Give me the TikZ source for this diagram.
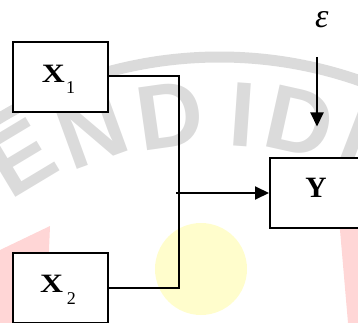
\documentclass[tikz,border=0pt]{standalone}
\usepackage{fontspec}
\usepackage{graphicx}
\setmainfont{Liberation Serif}
\newfontfamily\wmfont{Liberation Sans}
\usetikzlibrary{arrows.meta}
\definecolor{wmgray}{RGB}{219,219,219}
\definecolor{wmpink}{RGB}{255,214,214}
\definecolor{wmyellow}{RGB}{255,253,204}
\begin{document}
\begin{tikzpicture}[x=1pt,y=-1pt,
  box/.style={draw=black, line width=2pt, fill=white, inner sep=0pt},
  conn/.style={line width=2pt},
  arr/.style={conn, -{Triangle[length=14pt,width=13pt]}},
  wm/.style={text=wmgray, font=\wmfont\bfseries\fontsize{92}{92}\selectfont, inner sep=0pt},
  lab/.style={inner sep=0pt, anchor=base}
]
\useasboundingbox (0,0) rectangle (358,323);
% faint watermark
\draw[wmgray, line width=11pt] (219.5,483) ++(-125:426) arc[start angle=-125, end angle=-65, radius=426];
\node[wm, rotate=31]   (wE)  at (20,158)  {E};
\node[wm, rotate=20]   (wN)  at (92,130)  {N};
\node[wm, rotate=8]    (wD1) at (170,116) {D};
\node[wm, rotate=-4]   (wI1) at (242,115) {I};
\node[wm, rotate=-12.5](wD2) at (300,122) {D};
\node[wm, rotate=-21]  (wI2) at (358,133) {I};
\fill[wmpink] (0,250) -- (50,226) -- (46,323) -- (0,323) -- cycle;
\fill[wmpink] (338.7,215) -- (358,215) -- (358,323) -- (348,323) -- cycle;
\fill[wmyellow] (201,269) circle[radius=46];
% boxes
\node[box, minimum width=95pt, minimum height=70pt] (x1) at (60.5,77) {};
\node[box, minimum width=95pt, minimum height=70pt] (x2) at (60.5,288) {};
\node[box, minimum width=100pt, minimum height=70pt] (y) at (320,192.5) {};
% labels
\node[lab] (x1l) at (53.3,82.3) {\fontsize{26.5}{26.5}\selectfont\bfseries\scalebox{1.2}[1]{X}};
\node[lab] (x1s) at (70.5,94) {\fontsize{18}{18}\selectfont 1};
\node[lab] (x2l) at (51.7,292.3) {\fontsize{26.5}{26.5}\selectfont\bfseries\scalebox{1.2}[1]{X}};
\node[lab] (x2s) at (71.3,304) {\fontsize{18}{18}\selectfont 2};
\node[lab] (yl) at (316,197) {\fontsize{29.5}{29.5}\selectfont\bfseries Y};
\node[lab] (eps) at (321.7,27.3) {\fontsize{34}{34}\selectfont\itshape ε};
% connectors
\coordinate (jt) at (179,76);
\coordinate (jb) at (179,288);
\coordinate (js) at (176,193);
\coordinate (ef) at (317,57);
\draw[conn] (x1.east |- jt) -- (jt) -- (jb) -- (x2.east);
\draw[arr] (js) -- (y.west |- js);
\draw[arr, shorten >=30pt] (ef) -- (ef |- y.north);
\end{tikzpicture}
\end{document}
